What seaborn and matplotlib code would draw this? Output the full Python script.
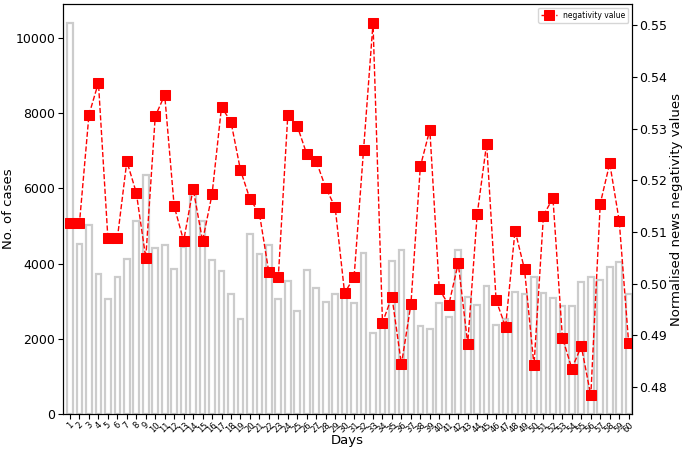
import numpy as np
import pandas as pd
import seaborn as sns
import matplotlib
matplotlib.use('Agg')
import matplotlib.pyplot as plt

# days 1..60
days = list(range(1, 61))

# no. of cases per day (bars)
cases = [10380, 4520, 5030, 3730, 3070, 3650, 4110, 5140, 6340, 4410,
         4500, 3850, 4450, 5880, 5130, 4100, 3790, 3190, 2520, 4780,
         4250, 4480, 3050, 3540, 2750, 3820, 3340, 2990, 3180, 3200,
         2950, 4270, 2150, 2400, 4080, 4350, 2880, 2340, 2270, 2950,
         2590, 4350, 3110, 2900, 3390, 2360, 2520, 3240, 3180, 3650,
         3220, 3080, 2860, 2860, 3520, 3650, 3550, 3900, 4040, 3190]

# normalised news negativity values (line)
negativity = [0.5118, 0.5118, 0.5327, 0.5389, 0.5088, 0.5088, 0.5237, 0.5176, 0.5050, 0.5324,
              0.5365, 0.5150, 0.5083, 0.5184, 0.5083, 0.5173, 0.5342, 0.5313, 0.5220, 0.5164,
              0.5136, 0.5022, 0.5014, 0.5326, 0.5305, 0.5251, 0.5237, 0.5186, 0.5148, 0.4982,
              0.5013, 0.5259, 0.5504, 0.4925, 0.4975, 0.4844, 0.4960, 0.5227, 0.5298, 0.4989,
              0.4959, 0.5040, 0.4884, 0.5134, 0.5271, 0.4968, 0.4917, 0.5103, 0.5028, 0.4842,
              0.5132, 0.5166, 0.4896, 0.4836, 0.4879, 0.4784, 0.5155, 0.5233, 0.5122, 0.4885]

df = pd.DataFrame({'Days': days, 'cases': cases, 'neg': negativity})

fig, ax = plt.subplots(figsize=(6.85, 4.53), dpi=100)
fig.subplots_adjust(left=0.092, right=0.9226, bottom=0.086, top=0.991)

# bars: white fill, light grey outline
sns.barplot(data=df, x='Days', y='cases', color='white', edgecolor='#cccccc',
            linewidth=1.6, width=0.6, saturation=1, ax=ax)
ax.set_ylim(0, 10895)
ax.set_xlim(-0.74, 59.35)
ax.set_xlabel('Days', fontsize=9.5, labelpad=0)
ax.set_ylabel('No. of cases', fontsize=9.5, labelpad=0.5)
ax.tick_params(axis='y', labelsize=9, pad=2)
ax.tick_params(axis='x', labelsize=6, pad=1)
plt.setp(ax.get_xticklabels(), rotation=45)

# negativity line on twin axis
ax2 = ax.twinx()
sns.lineplot(x=np.arange(len(days)), y=df['neg'], ax=ax2, color='red', marker='s',
             markersize=7, markeredgecolor='red', linestyle='--', linewidth=1,
             label='negativity value')
ax2.set_ylim(0.4748, 0.5541)
ax2.set_ylabel('Normalised news negativity values', fontsize=9.5, labelpad=2)
ax2.tick_params(axis='y', labelsize=9, pad=2)
ax2.legend(loc='upper right', fontsize=5.5)

plt.savefig('out.png', dpi=100)
